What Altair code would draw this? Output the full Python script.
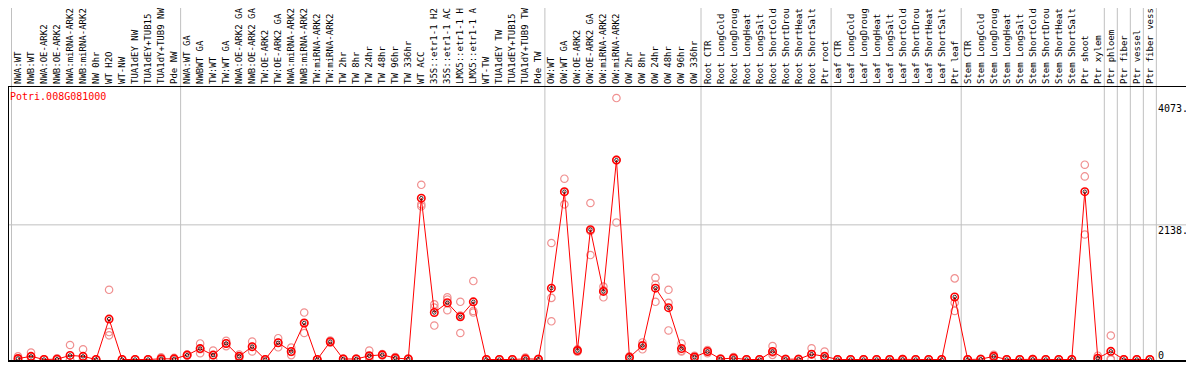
import altair as alt
import pandas as pd

categories = [
    "NWA:WT", "NWB:WT", "NWA:OE-ARK2", "NWB:OE-ARK2", "NWA:miRNA-ARK2", "NWB:miRNA-ARK2",
    "NW 0hr", "WT H2O", "WT-NW", "TUA1dEY NW", "TUA1dEY+TUB15 NW", "TUA1dY+TUB9 NW", "Pde NW",
    "NWA:WT GA", "NWBWT GA", "TW:WT", "TW:WT GA", "NWA:OE-ARK2 GA", "NWB:OE-ARK2 GA",
    "TW:OE-ARK2", "TW:OE-ARK2 GA", "NWA:miRNA-ARK2", "NWB:miRNA-ARK2", "TW:miRNA-ARK2",
    "TW:miRNA-ARK2", "TW 2hr", "TW 8hr", "TW 24hr", "TW 48hr", "TW 96hr", "TW 336hr",
    "WT ACC", "35S::etr1-1 H2O", "35S::etr1-1 ACC", "LMX5::etr1-1 H2O", "LMX5::etr1-1 ACC",
    "WT-TW", "TUA1dEY TW", "TUA1dEY+TUB15 TW", "TUA1dY+TUB9 TW", "Pde TW",
    "OW:WT", "OW:WT GA", "OW:OE-ARK2", "OW:OE-ARK2 GA", "OW:miRNA-ARK2", "OW:miRNA-ARK2",
    "OW 2hr", "OW 8hr", "OW 24hr", "OW 48hr", "OW 96hr", "OW 336hr",
    "Root CTR", "Root LongCold", "Root LongDrought", "Root LongHeat", "Root LongSalt",
    "Root ShortCold", "Root ShortDrought", "Root ShortHeat", "Root ShortSalt", "Ptr root",
    "Leaf CTR", "Leaf LongCold", "Leaf LongDrought", "Leaf LongHeat", "Leaf LongSalt",
    "Leaf ShortCold", "Leaf ShortDrought", "Leaf ShortHeat", "Leaf ShortSalt", "Ptr leaf",
    "Stem CTR", "Stem LongCold", "Stem LongDrought", "Stem LongHeat", "Stem LongSalt",
    "Stem ShortCold", "Stem ShortDrought", "Stem ShortHeat", "Stem ShortSalt",
    "Ptr shoot", "Ptr xylem", "Ptr phloem", "Ptr fiber", "Ptr vessel", "Ptr fiber vessel",
]

mean_vals = [
    15, 50, 0, 5, 65, 50, 0, 642, 0, 0, 0, 11, 10,
    70, 173, 70, 255, 50, 204, 0, 266, 127, 580, 0, 282, 8, 8, 59, 74, 23, 8,
    2562, 746, 901, 678, 916, 0, 0, 0, 10, 5,
    1133, 2665, 142, 2062, 1081, 3166, 34, 220, 1133, 823, 173, 39,
    127, 8, 23, 0, 0, 127, 5, 5, 85, 50,
    0, 0, 0, 0, 0, 3, 0, 0, 0, 993,
    0, 5, 50, 0, 0, 3, 0, 0, 0, 2665, 20,
    130, 0, 0, 0,
]

rep1 = [
    50, 110, 5, 20, 230, 162, 0, 1107, 0, 0, 0, 34, 25,
    80, 255, 142, 297, 80, 286, 0, 338, 189, 746, 0, 300, 15, 15, 142, 85, 40, 15,
    2774, 875, 988, 916, 1246, 0, 0, 0, 30, 10,
    1850, 2871, 160, 2485, 1158, 4152, 50, 271, 1297, 1107, 255, 60,
    150, 15, 40, 0, 0, 214, 10, 10, 178, 127,
    0, 0, 5, 0, 0, 8, 0, 0, 0, 1288,
    0, 10, 74, 0, 0, 8, 0, 0, 0, 3093, 60,
    380, 0, 0, 0,
]

rep2 = [
    0, 40, 0, 0, 0, 0, 0, 436, 0, 0, 0, 0, 5,
    70, 165, 68, 255, 50, 200, 0, 266, 120, 575, 0, 280, 8, 8, 30, 74, 20, 8,
    2464, 824, 952, 697, 771, 0, 0, 0, 0, 5,
    978, 2660, 140, 2042, 1097, 3171, 34, 228, 1190, 901, 140, 40,
    127, 8, 20, 0, 0, 110, 5, 5, 80, 20,
    0, 0, 0, 0, 0, 0, 0, 0, 0, 901,
    0, 5, 50, 0, 0, 0, 0, 0, 0, 2907, 5,
    10, 0, 0, 0,
]

rep3 = [
    0, 0, 0, 0, 0, 0, 0, 384, 0, 0, 0, 0, 0,
    60, 100, 0, 213, 20, 127, 0, 194, 70, 421, 0, 265, 0, 0, 5, 63, 10, 0,
    2433, 539, 782, 421, 746, 0, 0, 0, 0, 0,
    607, 2464, 125, 1659, 988, 2175, 20, 162, 916, 461, 127, 20,
    100, 0, 10, 0, 0, 74, 0, 0, 0, 5,
    0, 0, 0, 0, 0, 0, 0, 0, 0, 771,
    0, 0, 25, 0, 0, 0, 0, 0, 0, 1985, 0,
    0, 0, 0, 0,
]

group_bounds = [-0.5, 12.5, 40.5, 52.5, 62.5, 72.5, 83.5, 84.5, 85.5, 86.5, 87.5]
grid_values = [2138]
top_ticks = [2138, 4073]
top_tick_labels = ["2138.", "4073."]
zero_tick = [0]
zero_tick_label = ["0"]
gene = ["Potri.008G081000"]

W, H = 1178, 354
BAND = 78.5
FONT = "DejaVu Sans Mono"
RED = "#ff0000"
PINK = "#f09090"
GRAY = "#c0c0c0"

xs = alt.Scale(domain=[-0.769, 89.78], nice=False, zero=False)
ys = alt.Scale(domain=[0, 4073], range=[351.5, 95], nice=False, zero=False)

idx = list(range(len(categories)))
df_mean = pd.DataFrame({"i": idx, "cat": categories, "v": mean_vals})
df_rep = pd.DataFrame({
    "i": idx * 3,
    "v": rep1 + rep2 + rep3,
})
df_bounds = pd.DataFrame({"b": group_bounds})
df_grid = pd.DataFrame({"g": grid_values})
df_top = pd.DataFrame({"t": top_ticks, "lab": top_tick_labels})
df_zero = pd.DataFrame({"t": zero_tick, "lab": zero_tick_label})
df_gene = pd.DataFrame({"lab": gene})
df_one = pd.DataFrame({"k": [0]})

X = lambda f: alt.X(f, type="quantitative", scale=xs, axis=None)
Y = lambda f: alt.Y(f, type="quantitative", scale=ys, axis=None)

grid = alt.Chart(df_grid).mark_rule(color=GRAY, strokeWidth=1).encode(
    y=Y("g"), x=alt.value(0), x2=alt.value(W)
)
seps = alt.Chart(df_bounds).mark_rule(color=GRAY, strokeWidth=1).encode(
    x=X("b"), y=alt.value(0), y2=alt.value(H)
)
frame_top = alt.Chart(df_one).mark_rule(color="black", strokeWidth=1).encode(
    x=alt.value(0), x2=alt.value(W), y=alt.value(BAND)
)
frame_bottom = alt.Chart(df_one).mark_rule(color="black", strokeWidth=2).encode(
    x=alt.value(0), x2=alt.value(W), y=alt.value(H - 1)
)
frame_left = alt.Chart(df_one).mark_rule(color="black", strokeWidth=1).encode(
    x=alt.value(0.5), y=alt.value(BAND), y2=alt.value(H)
)

labels = alt.Chart(df_mean).mark_text(
    angle=270, align="left", baseline="middle", font=FONT, fontSize=9, color="black"
).encode(x=X("i"), y=alt.value(BAND - 2.5), text="cat:N")

reps = alt.Chart(df_rep).mark_point(
    shape="circle", filled=False, color=PINK, size=55, strokeWidth=1.2, opacity=1
).encode(x=X("i"), y=Y("v"))

line = alt.Chart(df_mean).mark_line(color=RED, strokeWidth=1).encode(
    x=X("i"), y=Y("v"), order="i:Q"
)
means = alt.Chart(df_mean).mark_point(
    shape="circle", filled=False, color=RED, size=55, strokeWidth=1.6, opacity=1
).encode(x=X("i"), y=Y("v"))
means_inner = alt.Chart(df_mean).mark_point(
    shape="circle", filled=False, color="black", size=12, strokeWidth=0.8, opacity=1
).encode(x=X("i"), y=Y("v"))

ytop = alt.Chart(df_top).mark_text(
    align="left", baseline="top", font=FONT, fontSize=10, color="black", dy=1
).encode(x=alt.value(1150), y=Y("t"), text="lab:N")
yzero = alt.Chart(df_zero).mark_text(
    align="left", baseline="alphabetic", font=FONT, fontSize=10, color="black", dy=-1
).encode(x=alt.value(1150), y=Y("t"), text="lab:N")

title = alt.Chart(df_gene).mark_text(
    align="left", baseline="middle", font=FONT, fontSize=10, color=RED
).encode(x=alt.value(2), y=alt.value(BAND + 10.5), text="lab:N")

chart = alt.layer(
    grid, seps, frame_top, frame_left, labels, reps, line, means, means_inner,
    ytop, yzero, title, frame_bottom
).properties(
    width=W, height=H, padding=0,
    autosize=alt.AutoSizeParams(type="none"),
    background="white",
).configure_view(stroke=None)

chart.save("out.html", embed_options={"renderer": "svg", "actions": False})
